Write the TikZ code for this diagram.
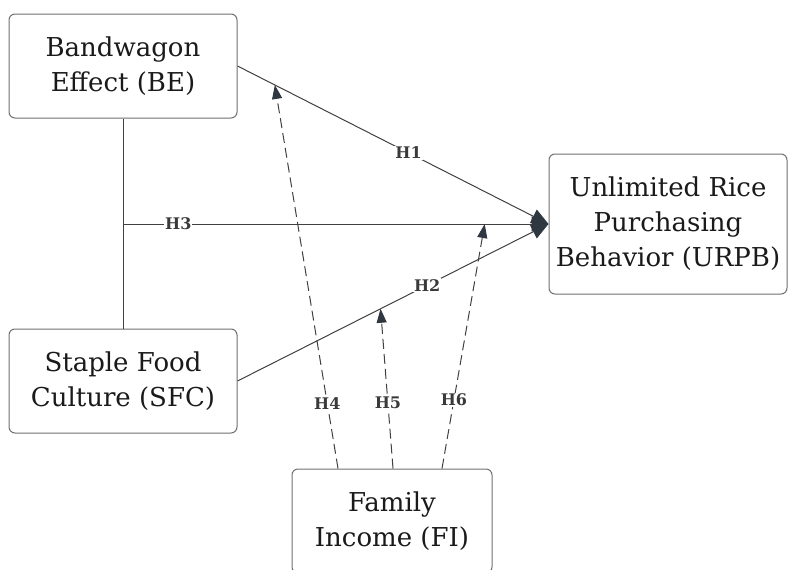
\documentclass[tikz,border=0pt]{standalone}
\usepackage{fontspec}
\setmainfont{DejaVu Serif}
\usetikzlibrary{arrows.meta,calc}
\definecolor{linec}{HTML}{404040}
\definecolor{boxc}{HTML}{707070}
\definecolor{tipc}{HTML}{2F3740}
\definecolor{txtc}{HTML}{1A1A1A}
\definecolor{labc}{HTML}{3A3A3A}
\tikzset{
  conbox/.style={draw=boxc, line width=1pt, rounded corners=6pt, fill=white,
    align=center, text=txtc, font=\fontsize{26}{35}\selectfont, inner sep=0pt},
  solidcon/.style={draw=linec, line width=1pt},
  dashcon/.style={draw=linec, line width=1pt, dash pattern=on 10pt off 5pt,
    -{Triangle[length=14pt,width=10pt,fill=tipc,color=tipc]}},
  bigtip/.style={-{Triangle[length=17pt,width=15pt,fill=tipc,color=tipc]}},
  hlab/.style={fill=white, inner sep=1pt, text=labc, font=\fontsize{16}{18}\selectfont\bfseries}
}
\begin{document}
\begin{tikzpicture}[x=1pt,y=-1pt]
\useasboundingbox (0,0) rectangle (790,570);
\clip (0,0) rectangle (790,570);
\node[conbox, minimum width=228pt, minimum height=104pt] (be) at (123,66) {Bandwagon\\Effect (BE)};
\node[conbox, minimum width=228pt, minimum height=104pt] (sfc) at (123,381) {Staple Food\\Culture (SFC)};
\node[conbox, minimum width=238pt, minimum height=140pt] (urpb) at (668,224) {Unlimited Rice\\Purchasing\\Behavior (URPB)};
\node[conbox, minimum width=200pt, minimum height=104pt] (fi) at (392,521) {Family\\Income (FI)};

\coordinate (h3start) at (be.south |- urpb.west);
\coordinate (t4) at ($(be.east)!0.12!(urpb.west)$);
\coordinate (t5) at ($(sfc.east)!0.46!(urpb.west)$);
\coordinate (t6) at ($(h3start)!0.85!(urpb.west)$);
\coordinate (s4) at ($(fi.north)+(-54,0)$);
\coordinate (s5) at ($(fi.north)+(1,0)$);
\coordinate (s6) at ($(fi.north)+(50,0)$);

\draw[solidcon] (be.south) -- (sfc.north);
\draw[solidcon, bigtip] (be.east) -- node[hlab, pos=0.55] {H1} (urpb.west);
\draw[solidcon, bigtip] (sfc.east) -- node[hlab, pos=0.61] {H2} (urpb.west);
\draw[solidcon, bigtip] (h3start) -- node[hlab, pos=0.13] {H3} (urpb.west);

\draw[dashcon] (s4) -- node[hlab, pos=0.17] {H4} (t4);
\draw[dashcon] (s5) -- node[hlab, pos=0.41] {H5} (t5);
\draw[dashcon] (s6) -- node[hlab, pos=0.28] {H6} (t6);
\end{tikzpicture}
\end{document}
